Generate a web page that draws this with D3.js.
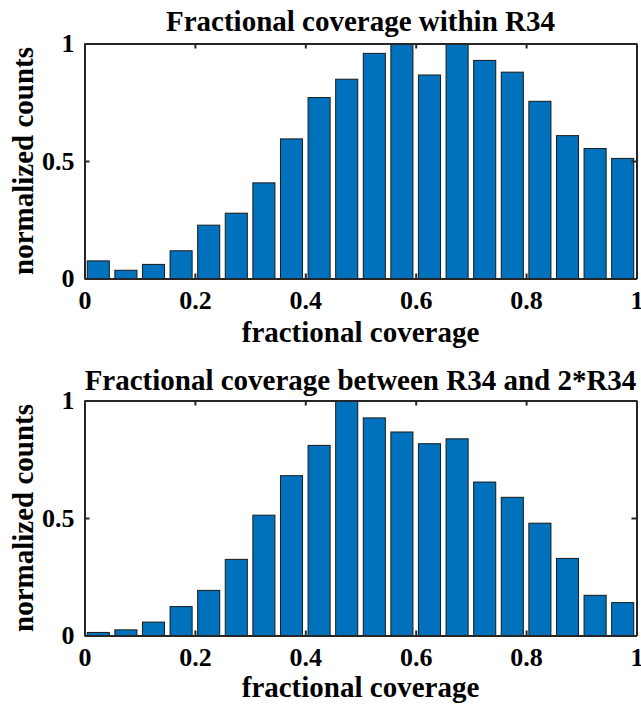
<!DOCTYPE html>
<html><head><meta charset="utf-8">
<script src="https://cdn.jsdelivr.net/npm/d3@7"></script>
<style>
html,body{margin:0;padding:0;background:#fff;}
</style></head>
<body><svg id="chart" width="641" height="707"></svg>
<script>
// bin centers (bin width 0.05)
const binCenters = [0.025,0.075,0.125,0.175,0.225,0.275,0.325,0.375,0.425,0.475,0.525,0.575,0.625,0.675,0.725,0.775,0.825,0.875,0.925,0.975];
const withinR34 = [0.075,0.035,0.06,0.118,0.227,0.278,0.407,0.594,0.770,0.848,0.958,0.996,0.866,1.0,0.928,0.878,0.754,0.608,0.553,0.511];
const betweenR34 = [0.013,0.024,0.057,0.123,0.192,0.324,0.512,0.680,0.809,1.0,0.926,0.866,0.816,0.837,0.653,0.588,0.478,0.328,0.171,0.140];
const xTicks = [0,0.2,0.4,0.6,0.8,1];
const xTickLabels = ["0","0.2","0.4","0.6","0.8","1"];
const yTicks = [0,0.5,1];
const yTickLabels = ["0","0.5","1"];
const titles = ["Fractional coverage within R34","Fractional coverage between R34 and 2*R34"];
const xLabel = "fractional coverage";
const yLabel = "normalized counts";

const FONT = "'Liberation Serif'";
const svg = d3.select("#chart");
const panels = [
  {data: withinR34, top: 43.5, bottom: 278.5, title: titles[0], titleY: 30.5, xLabY: 341.5},
  {data: betweenR34, top: 400.5, bottom: 635.5, title: titles[1], titleY: 390, xLabY: 697}
];
const left = 84.5, right = 636.5;
const binW = 0.05, barFrac = 0.8;
const axisColor = "#262626";

function styleText(sel, size){
  sel.attr("font-family", null).attr("font-size", null)
     .style("font-family", FONT).style("font-weight","bold").style("font-size", size+"px").attr("fill","#000");
}

panels.forEach(p => {
  const x = d3.scaleLinear().domain([0,1]).range([left,right]);
  const y = d3.scaleLinear().domain([0,1]).range([p.bottom,p.top]);
  const g = svg.append("g");
  g.selectAll("rect.bar").data(p.data).join("rect")
    .attr("class","bar")
    .attr("x",(d,i)=>x(binCenters[i]-binW*barFrac/2))
    .attr("width",(d,i)=>x(binCenters[i]+binW*barFrac/2)-x(binCenters[i]-binW*barFrac/2))
    .attr("y",d=>y(d))
    .attr("height",d=>y(0)-y(d))
    .attr("fill","#0072BD")
    .attr("stroke","#1a1a1a")
    .attr("stroke-width",1);
  const tickLen = 5;
  const xb = g.append("g").attr("transform",`translate(0,${p.bottom})`)
    .call(d3.axisBottom(x).tickValues(xTicks).tickFormat((d,i)=>xTickLabels[i]).tickSizeInner(-tickLen).tickSizeOuter(0).tickPadding(12));
  const xt = g.append("g").attr("transform",`translate(0,${p.top})`)
    .call(d3.axisTop(x).tickValues(xTicks).tickFormat("").tickSizeInner(-tickLen).tickSizeOuter(0));
  const yl = g.append("g").attr("transform",`translate(${left},0)`)
    .call(d3.axisLeft(y).tickValues(yTicks).tickFormat((d,i)=>yTickLabels[i]).tickSizeInner(-tickLen).tickSizeOuter(0).tickPadding(10));
  const yr = g.append("g").attr("transform",`translate(${right},0)`)
    .call(d3.axisRight(y).tickValues(yTicks).tickFormat("").tickSizeInner(-tickLen).tickSizeOuter(0));
  [xb,xt,yl,yr].forEach(a=>{
    a.attr("font-family", null).attr("font-size", null);
    a.selectAll("path.domain").attr("stroke",axisColor).attr("stroke-width",2);
    a.selectAll(".tick line").attr("stroke",axisColor).attr("stroke-width",2);
    styleText(a.selectAll("text"), 26);
  });
  xb.selectAll("text").attr("dy","0.71em");
  styleText(g.append("text").attr("x",(left+right)/2).attr("y",p.titleY)
    .attr("text-anchor","middle").text(p.title), 29);
  styleText(g.append("text").attr("x",(left+right)/2).attr("y",p.xLabY)
    .attr("text-anchor","middle").text(xLabel), 29);
  styleText(g.append("text").attr("transform",`translate(33,${(p.top+p.bottom)/2}) rotate(-90)`)
    .attr("text-anchor","middle").text(yLabel), 29);
});
</script></body></html>
